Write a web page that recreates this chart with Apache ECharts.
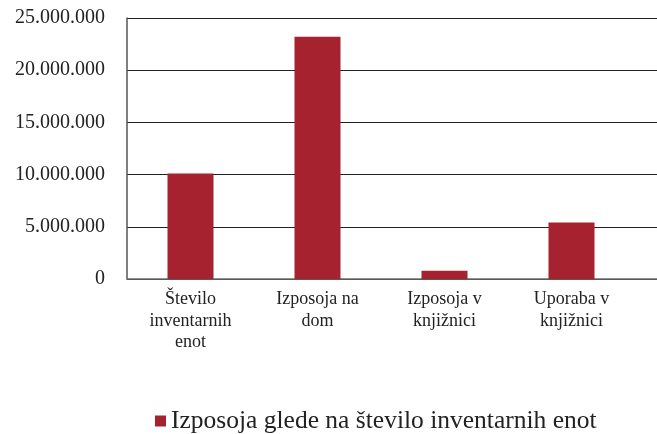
<!DOCTYPE html>
<html>
<head>
<meta charset="utf-8">
<script src="https://cdn.jsdelivr.net/npm/echarts@6/dist/echarts.min.js"></script>
<style>
  html, body { margin: 0; padding: 0; background: #fff; }
  #chart { width: 657px; height: 434px; }
</style>
</head>
<body>
<div id="chart"></div>
<script>
  // data
  const categories = ['Število\ninventarnih\nenot', 'Izposoja na\ndom', 'Izposoja v\nknjižnici', 'Uporaba v\nknjižnici'];
  const values = [10100000, 23200000, 800000, 5400000];
  const seriesName = 'Izposoja glede na število inventarnih enot';
  const yMin = 0, yMax = 25000000, yStep = 5000000;

  const font = 'Liberation Serif';
  const textColor = '#222';

  // 1.000.000 style thousands
  function fmt(v) {
    return String(v).replace(/\B(?=(\d{3})+(?!\d))/g, '.');
  }

  let myChart = echarts.init(document.getElementById('chart'));
  let option = {
    animation: false,
    textStyle: { fontFamily: font },
    legend: {
      top: 403,
      left: 150,
      itemWidth: 11,
      itemHeight: 11,
      itemGap: 6,
      icon: 'rect',
      textStyle: { fontFamily: font, fontSize: 25.5, color: textColor },
      data: [seriesName]
    },
    grid: [
      // bars
      { left: 127, top: 18, width: 508, height: 261 },
      // grid lines run on to the right edge
      { left: 127, top: 18, right: 0, height: 261 }
    ],
    xAxis: [
      {
        type: 'category',
        gridIndex: 0,
        data: categories,
        axisLine: { show: false },
        axisTick: { show: false },
        axisLabel: {
          margin: 10,
          fontFamily: font,
          fontSize: 18,
          lineHeight: 21.5,
          color: textColor
        }
      },
      {
        type: 'value',
        gridIndex: 1,
        min: 0,
        max: 1,
        axisLine: { show: true, lineStyle: { color: '#6e6e6e', width: 1.5 } },
        axisTick: { show: false },
        axisLabel: { show: false },
        splitLine: { show: false }
      }
    ],
    yAxis: [
      {
        type: 'value',
        gridIndex: 0,
        min: yMin,
        max: yMax,
        interval: yStep,
        axisLine: { show: false },
        axisTick: { show: false },
        axisLabel: { show: false },
        splitLine: { show: false }
      },
      {
        type: 'value',
        gridIndex: 1,
        min: yMin,
        max: yMax,
        interval: yStep,
        axisLine: { show: true, lineStyle: { color: '#555', width: 1.5 } },
        axisTick: { show: false },
        axisLabel: {
          margin: 22,
          fontFamily: font,
          fontSize: 20,
          color: textColor,
          formatter: fmt
        },
        splitLine: { show: true, lineStyle: { color: '#222', width: 1 } }
      }
    ],
    series: [
      {
        name: seriesName,
        type: 'bar',
        xAxisIndex: 0,
        yAxisIndex: 0,
        barWidth: 46,
        itemStyle: { color: '#A5222E' },
        data: values
      }
    ]
  };
  myChart.setOption(option);
</script>
</body>
</html>
